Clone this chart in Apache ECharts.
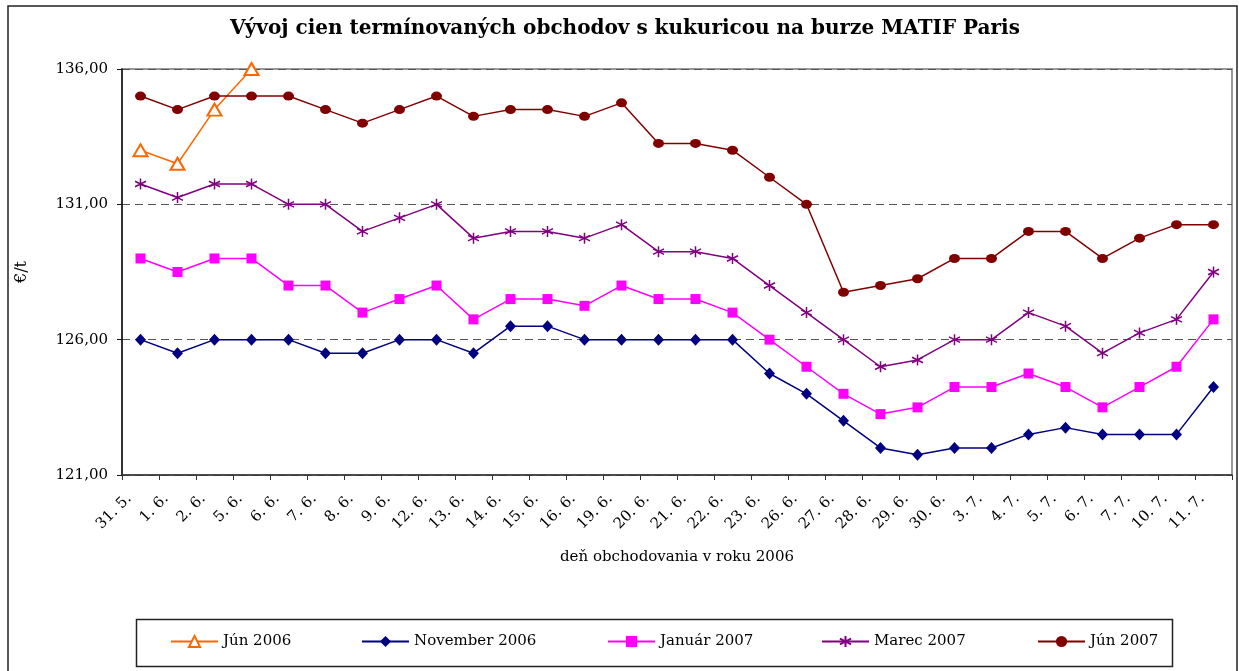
<!DOCTYPE html>
<html>
<head>
<meta charset="utf-8">
<script src="https://cdn.jsdelivr.net/npm/echarts@6/dist/echarts.min.js"></script>
<style>
html,body{margin:0;padding:0;background:#fff;}
#chart{width:1239px;height:671px;}
</style>
</head>
<body>
<div id="chart"></div>
<script>
// ---- data ----
var categories = ['31. 5.','1. 6.','2. 6.','5. 6.','6. 6.','7. 6.','8. 6.','9. 6.','12. 6.','13. 6.','14. 6.','15. 6.','16. 6.','19. 6.','20. 6.','21. 6.','22. 6.','23. 6.','26. 6.','27. 6.','28. 6.','29. 6.','30. 6.','3. 7.','4. 7.','5. 7.','6. 7.','7. 7.','10. 7.','11. 7.'];
var jun2006 = [133.0, 132.5, 134.5, 136.0];
var nov2006 = [126.0,125.5,126.0,126.0,126.0,125.5,125.5,126.0,126.0,125.5,126.5,126.5,126.0,126.0,126.0,126.0,126.0,124.75,124.0,123.0,122.0,121.75,122.0,122.0,122.5,122.75,122.5,122.5,122.5,124.25];
var jan2007 = [129.0,128.5,129.0,129.0,128.0,128.0,127.0,127.5,128.0,126.75,127.5,127.5,127.25,128.0,127.5,127.5,127.0,126.0,125.0,124.0,123.25,123.5,124.25,124.25,124.75,124.25,123.5,124.25,125.0,126.75];
var mar2007 = [131.75,131.25,131.75,131.75,131.0,131.0,130.0,130.5,131.0,129.75,130.0,130.0,129.75,130.25,129.25,129.25,129.0,128.0,127.0,126.0,125.0,125.25,126.0,126.0,127.0,126.5,125.5,126.25,126.75,128.5];
var jun2007 = [135.0,134.5,135.0,135.0,135.0,134.5,134.0,134.5,135.0,134.25,134.5,134.5,134.25,134.75,133.25,133.25,133.0,132.0,131.0,127.75,128.0,128.25,129.0,129.0,130.0,130.0,129.0,129.75,130.25,130.25];
var seriesNames = ['Jún 2006','November 2006','Január 2007','Marec 2007','Jún 2007'];
var yTicks = {min: 121, max: 136, interval: 5};

var FONT = 'DejaVu Serif';
var asterisk = 'path://M5,0L5,10M0.7,2.5L9.3,7.5M0.7,7.5L9.3,2.5';

function mkSeries(name, data, color, symbol, size, border) {
  return {
    name: name, type: 'line', data: data,
    symbol: symbol, symbolSize: size, showSymbol: true,
    lineStyle: {color: color, width: 1.5},
    itemStyle: {color: border && symbol !== 'emptyTriangle' ? 'rgba(0,0,0,0)' : color, borderColor: color, borderWidth: border ? 1.5 : 0},
    emphasis: {disabled: true},
    z: 3
  };
}

var legendLeft = [170, 361, 607, 821, 1037];
var legends = seriesNames.map(function (n, i) {
  return {
    data: [n], left: legendLeft[i], top: 634, orient: 'horizontal',
    itemWidth: 47, itemHeight: 14, itemGap: 5, padding: 0,
    textStyle: {fontFamily: FONT, fontSize: 15, color: '#000'},
    selectedMode: false
  };
});

var chart = echarts.init(document.getElementById('chart'), null, {renderer: 'canvas'});
chart.setOption({
  animation: false,
  backgroundColor: '#fff',
  title: {
    text: 'Vývoj cien termínovaných obchodov s kukuricou na burze MATIF Paris',
    left: 625, top: 19, textAlign: 'center', padding: 0,
    textStyle: {fontFamily: FONT, fontSize: 20, fontWeight: 'bold', color: '#000'}
  },
  legend: legends,
  graphic: [
    {type: 'rect', shape: {x: 8, y: 6, width: 1229, height: 700}, style: {fill: 'none', stroke: '#222', lineWidth: 1.5}, silent: true, z: -10},
    {type: 'rect', shape: {x: 136.5, y: 619.5, width: 1036, height: 47}, style: {fill: 'none', stroke: '#222', lineWidth: 1.5}, silent: true, z: -10}
  ],
  grid: {left: 122, right: 7, top: 69, bottom: 196, show: true, borderColor: '#999', borderWidth: 2, backgroundColor: '#fff'},
  xAxis: {
    type: 'category', data: categories, boundaryGap: true,
    name: 'deň obchodovania v roku 2006', nameLocation: 'middle', nameGap: 75,
    nameTextStyle: {fontFamily: FONT, fontSize: 15, color: '#000'},
    axisLine: {show: true, lineStyle: {color: '#333', width: 1.5}},
    axisTick: {show: true, length: 5, inside: false, lineStyle: {color: '#333', width: 1}},
    axisLabel: {interval: 0, rotate: 45, margin: 10, padding: [0, 16, 0, 0], fontFamily: FONT, fontSize: 15, color: '#000'},
    splitLine: {show: false}
  },
  yAxis: {
    type: 'value', min: yTicks.min, max: yTicks.max, interval: yTicks.interval,
    name: '€/t', nameLocation: 'middle', nameGap: 92, nameRotate: 90,
    nameTextStyle: {fontFamily: FONT, fontSize: 16, color: '#000'},
    axisLine: {show: true, lineStyle: {color: '#111', width: 1.5}},
    axisTick: {show: true, length: 5, lineStyle: {color: '#111', width: 1}},
    axisLabel: {margin: 14, fontFamily: FONT, fontSize: 15, color: '#000',
      formatter: function (v) { return v.toFixed(2).replace('.', ','); }},
    splitLine: {show: true, lineStyle: {color: '#555', width: 1, type: [8, 5]}}
  },
  series: [
    mkSeries(seriesNames[0], jun2006, '#FF6600', 'emptyTriangle', [14, 12], true),
    mkSeries(seriesNames[1], nov2006, '#000080', 'diamond', [11, 12], false),
    mkSeries(seriesNames[2], jan2007, '#FF00FF', 'rect', [10, 10], false),
    mkSeries(seriesNames[3], mar2007, '#800080', asterisk, [11, 11], true),
    mkSeries(seriesNames[4], jun2007, '#800000', 'circle', [11, 9], false)
  ]
});
</script>
</body>
</html>
